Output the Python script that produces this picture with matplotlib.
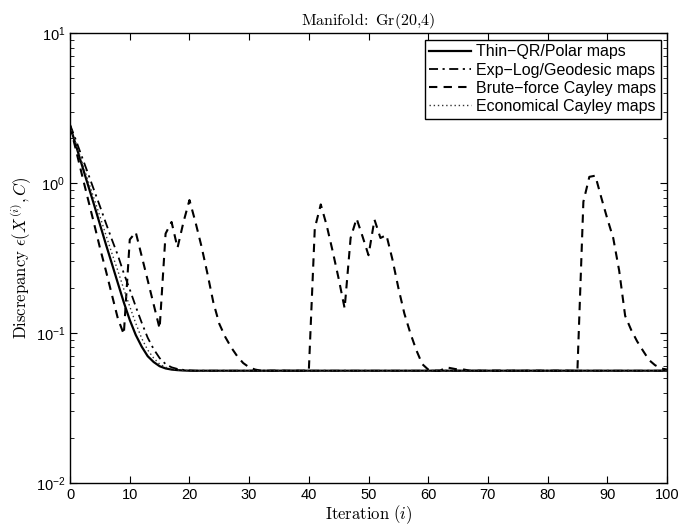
import matplotlib
matplotlib.use("Agg")
import matplotlib.pyplot as plt
import numpy as np

plt.rcParams['font.family'] = ['Liberation Sans', 'DejaVu Sans']
plt.rcParams['mathtext.fontset'] = 'cm'

iters = np.arange(0, 101)
plateau = 0.056

# Thin-QR / Polar maps
thin_qr = [2.40, 1.77, 1.31, 0.97, 0.72, 0.53, 0.39, 0.29, 0.215, 0.16,
           0.122, 0.097, 0.081, 0.070, 0.064, 0.060, 0.058, 0.057, 0.0565, 0.0562] + [plateau] * 81

# Exp-Log / Geodesic maps
exp_log = [2.45, 1.92, 1.49, 1.16, 0.90, 0.70, 0.54, 0.42, 0.33, 0.25,
           0.195, 0.15, 0.117, 0.093, 0.078, 0.068, 0.062, 0.059, 0.0575, 0.0567,
           0.0563] + [plateau] * 80

# Economical Cayley maps
econ_cayley = [2.40, 1.82, 1.38, 1.04, 0.79, 0.60, 0.45, 0.34, 0.26, 0.196,
               0.15, 0.116, 0.092, 0.077, 0.068, 0.062, 0.059, 0.0575, 0.0566, 0.0562] + [plateau] * 81

# Brute-force Cayley maps
brute_cayley = [2.40, 1.65, 1.13, 0.78, 0.54, 0.37, 0.26, 0.18, 0.125, 0.098,   # 0-9
                0.42, 0.47, 0.325, 0.225, 0.155, 0.107, 0.46, 0.55, 0.37, 0.55,  # 10-19
                0.77, 0.55, 0.38, 0.25, 0.16, 0.115, 0.094, 0.080, 0.070, 0.063,  # 20-29
                0.059, 0.057, 0.056, 0.056, 0.056, 0.056, 0.056, 0.056, 0.056, 0.056,  # 30-39
                0.056, 0.50, 0.72, 0.52, 0.35, 0.23, 0.146, 0.43, 0.58, 0.44,  # 40-49
                0.33, 0.57, 0.43, 0.45, 0.31, 0.20, 0.135, 0.10, 0.077, 0.062,  # 50-59
                0.057, 0.056, 0.056, 0.059, 0.058, 0.057, 0.057, 0.056, 0.056, 0.056,  # 60-69
                0.056, 0.056, 0.056, 0.056, 0.056, 0.056, 0.056, 0.056, 0.056, 0.056,  # 70-79
                0.056, 0.056, 0.056, 0.056, 0.056, 0.056, 0.75, 1.10, 1.12, 0.80,  # 80-89
                0.58, 0.43, 0.26, 0.13, 0.105, 0.088, 0.076, 0.066, 0.061, 0.058,  # 90-99
                0.057]

fig = plt.figure(figsize=(6.94, 5.26), dpi=100)
ax = fig.add_axes([0.101, 0.082, 0.860, 0.855])

ax.plot(iters, thin_qr, '-', color='black', lw=1.6, label='Thin\u2212QR/Polar maps')
ax.plot(iters, exp_log, color='black', lw=1.3, dashes=(5, 2.5, 1.2, 2.5), label='Exp\u2212Log/Geodesic maps')
ax.plot(iters, brute_cayley, color='black', lw=1.5, dashes=(4, 3), label='Brute\u2212force Cayley maps')
ax.plot(iters, econ_cayley, color='#333333', lw=1.0, dashes=(1, 2), label='Economical Cayley maps')

ax.set_yscale('log')
ax.set_xlim(0, 100)
ax.set_ylim(1e-2, 1e1)
ax.set_xticks(np.arange(0, 101, 10))

ax.tick_params(which='both', direction='in', top=True, right=True, labelsize=10.5)
ax.tick_params(which='major', length=5)
ax.tick_params(which='minor', length=3)
for s in ax.spines.values():
    s.set_linewidth(1.0)

ax.set_xlabel(r'$\mathrm{Iteration}\ (i)$', fontsize=12, labelpad=1)
ax.set_ylabel(r'$\mathrm{Discrepancy}\ \epsilon(X^{(i)},C)$', fontsize=12, labelpad=2)
ax.set_title(r'$\mathrm{Manifold\!:\ Gr(20{,}4)}$', fontsize=11.5, pad=6)

leg = ax.legend(loc='upper right', fontsize=11.5, frameon=True, fancybox=False,
                edgecolor='black', framealpha=1, borderaxespad=0.4,
                handlelength=2.6, handletextpad=0.3, labelspacing=0.2, borderpad=0.3)
leg.get_frame().set_linewidth(1.0)

fig.savefig('out.png', dpi=100)
